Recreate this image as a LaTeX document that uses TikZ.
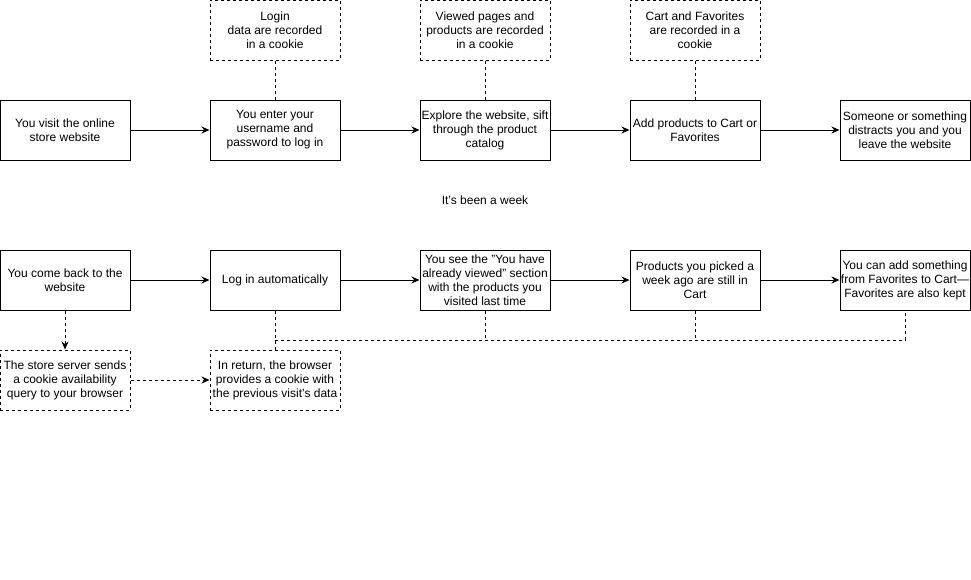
\documentclass[tikz,border=0pt]{standalone}
\usepackage{fontspec}
\setmainfont{Liberation Sans}
\usetikzlibrary{arrows.meta}

\begin{document}
\begin{tikzpicture}[x=1pt,y=-1pt,
    etape/.style={draw, line width=1pt, minimum width=130pt, minimum height=60pt,
      inner sep=0pt, align=center, font=\fontsize{12}{14}\selectfont},
    cookie/.style={etape, dash pattern=on 3pt off 3pt},
    lien/.style={line width=1pt, dash pattern=on 3pt off 3pt},
    fleche/.style={line width=1pt, -{Stealth[length=8pt,width=7pt]}}]
    % Cadre de l'image
    \useasboundingbox (0,0) rectangle (971,579);
    % Première visite
    \node[etape] (v1) at (65,130) {You visit the online\\store website};
    \node[etape] (v2) at (275,130) {You enter your\\username and\\password to log in};
    \node[etape] (v3) at (485,130) {Explore the website, sift\\through the product\\catalog};
    \node[etape] (v4) at (695,130) {Add products to Cart or\\Favorites};
    \node[etape] (v5) at (905,130) {Someone or something\\distracts you and you\\leave the website};
    % Cookies enregistrés
    \node[cookie] (k2) at (275,30) {Login\\data are recorded\\in a cookie};
    \node[cookie] (k3) at (485,30) {Viewed pages and\\products are recorded\\in a cookie};
    \node[cookie] (k4) at (695,30) {Cart and Favorites\\are recorded in a\\cookie};
    \foreach \i in {2,3,4} \draw[lien] (k\i.south) -- (v\i.north);
    \foreach \i/\j in {1/2,2/3,3/4,4/5} \draw[fleche] (v\i.east) -- (v\j.west);
    % Une semaine plus tard
    \node[font=\fontsize{12}{14}\selectfont] (semaine) at (485,200) {It's been a week};
    % Deuxième visite
    \node[etape] (r1) at (65,280) {You come back to the\\website};
    \node[etape] (r2) at (275,280) {Log in automatically};
    \node[etape] (r3) at (485,280) {You see the "You have\\already viewed" section\\with the products you\\visited last time};
    \node[etape] (r4) at (695,280) {Products you picked a\\week ago are still in\\Cart};
    \node[etape] (r5) at (905,280) {You can add something\\from Favorites to Cart—\\Favorites are also kept};
    \foreach \i/\j in {1/2,2/3,3/4,4/5} \draw[fleche] (r\i.east) -- (r\j.west);
    % Échange avec le navigateur
    \node[cookie] (q1) at (65,380) {The store server sends\\a cookie availability\\query to your browser};
    \node[cookie] (q2) at (275,380) {In return, the browser\\provides a cookie with\\the previous visit's data};
    \draw[lien, fleche] (r1.south) -- (q1.north);
    \draw[lien, fleche] (q1.east) -- (q2.west);
    \draw[lien] (r2.south) -- (q2.north);
    \coordinate (bus) at (275,340);
    \draw[lien] (bus) -| (r5.south);
    \draw[lien] (r3.south) -- (r3.south |- bus);
    \draw[lien] (r4.south) -- (r4.south |- bus);
\end{tikzpicture}
\end{document}
